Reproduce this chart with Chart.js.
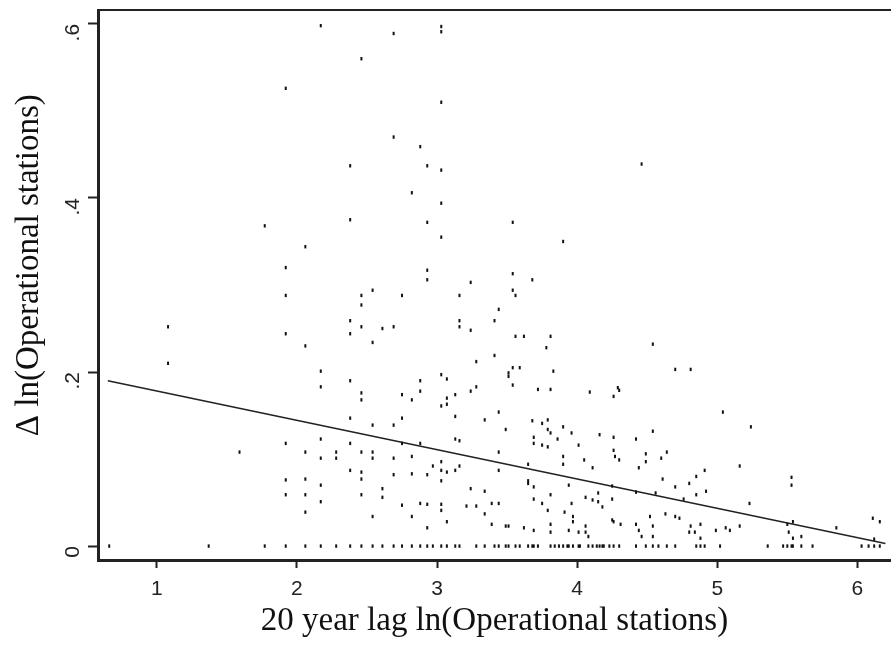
<!DOCTYPE html>
<html>
<head>
<meta charset="utf-8">
<script src="https://cdn.jsdelivr.net/npm/chart.js@4/dist/chart.umd.min.js"></script>
<style>
    body { margin: 0; background: #fff; overflow: hidden; }
    #wrap { width: 891px; height: 647px; }
    canvas { display: block; }
</style>
</head>
<body>
<div id="wrap"><canvas id="chart-scatter"></canvas></div>
<script>
// observations with a positive change
const lag_x = [
    1.92, 1.77, 1.92, 1.92, 1.08, 2.17, 2.69, 3.03, 3.03, 2.46, 3.03, 2.69, 2.88, 2.38, 2.93, 3.03,
    2.82, 3.03, 2.38, 2.93, 3.54, 3.03, 3.90, 2.06, 2.93, 2.93, 3.24, 3.54, 3.68, 2.46, 2.54, 2.75,
    3.16, 3.54, 3.56, 2.46, 3.44, 2.38, 2.46, 2.61, 2.69, 3.16, 3.16, 3.24, 3.41, 4.46, 1.92, 1.08,
    1.92, 1.59, 1.92, 1.92, 2.38, 2.54, 2.06, 3.56, 3.62, 3.81, 3.78, 3.41, 3.28, 2.17, 2.17, 2.38,
    3.51, 3.51, 3.54, 3.59, 3.83, 3.54, 3.72, 3.81, 3.03, 3.07, 2.88, 2.88, 3.24, 3.28, 2.46, 2.46,
    2.75, 2.82, 3.13, 3.07, 3.07, 3.03, 2.75, 2.38, 3.13, 3.44, 3.34, 2.54, 2.69, 3.68, 3.75, 3.79,
    3.49, 3.79, 3.81, 3.90, 3.96, 2.17, 2.38, 2.75, 2.88, 3.16, 3.13, 3.69, 3.69, 3.75, 3.79, 3.86,
    4.01, 2.06, 2.17, 2.28, 2.28, 2.46, 2.54, 2.54, 2.69, 2.82, 2.97, 3.03, 3.03, 3.07, 3.03, 3.13,
    3.16, 3.44, 3.44, 3.90, 3.90, 3.65, 3.65, 3.65, 2.38, 2.46, 2.46, 2.69, 2.82, 2.93, 2.06, 2.17,
    2.17, 2.06, 2.46, 2.61, 2.61, 3.24, 3.34, 3.69, 3.69, 3.81, 2.06, 2.54, 2.75, 2.82, 2.88, 2.93,
    3.03, 3.03, 2.93, 3.07, 3.21, 3.28, 3.39, 3.44, 3.34, 3.39, 3.49, 3.51, 3.62, 3.69, 3.75, 3.79,
    3.81, 3.81, 3.96, 3.91, 3.97, 3.97, 3.94, 4.01,
    4.54, 4.70, 4.81, 4.09, 4.26, 4.29, 4.30, 5.04, 5.24, 4.16, 4.26, 4.42, 4.54, 4.26, 4.27, 4.30,
    4.49, 4.49, 4.60, 4.64, 4.05, 4.11, 4.44, 5.16, 4.91, 4.85, 4.61, 4.70, 4.80, 3.94, 4.25, 4.42,
    4.56, 4.92, 4.85, 4.76, 5.53, 5.53, 4.06, 4.11, 4.15, 4.15, 4.18, 4.25, 5.23, 4.52, 4.63, 4.70,
    4.73, 4.25, 4.26, 4.31, 4.42, 4.44, 4.46, 4.54, 4.54, 4.06, 4.06, 4.08, 4.81, 4.80, 4.84, 4.88,
    4.88, 4.99, 5.06, 5.09, 5.16, 5.50, 5.54, 5.51, 5.54, 5.60, 5.85, 6.11, 6.16, 6.12
]
const change_y = [
    0.526, 0.368, 0.320, 0.288, 0.252, 0.598, 0.589, 0.591, 0.597, 0.560, 0.510, 0.470, 0.459, 0.437, 0.437, 0.432,
    0.406, 0.394, 0.375, 0.372, 0.372, 0.355, 0.350, 0.344, 0.317, 0.306, 0.303, 0.313, 0.306, 0.288, 0.294, 0.288,
    0.288, 0.294, 0.288, 0.277, 0.272, 0.259, 0.252, 0.250, 0.252, 0.259, 0.252, 0.248, 0.259, 0.439, 0.244, 0.210,
    0.118, 0.108, 0.076, 0.059, 0.244, 0.234, 0.230, 0.241, 0.241, 0.241, 0.228, 0.219, 0.212, 0.201, 0.183, 0.190,
    0.199, 0.195, 0.205, 0.205, 0.201, 0.185, 0.180, 0.180, 0.197, 0.192, 0.190, 0.178, 0.178, 0.183, 0.176, 0.168,
    0.174, 0.168, 0.174, 0.170, 0.163, 0.161, 0.147, 0.147, 0.149, 0.154, 0.145, 0.139, 0.139, 0.144, 0.141, 0.145,
    0.134, 0.134, 0.130, 0.137, 0.130, 0.123, 0.118, 0.118, 0.118, 0.121, 0.123, 0.125, 0.118, 0.116, 0.114, 0.123,
    0.116, 0.108, 0.101, 0.108, 0.101, 0.108, 0.108, 0.101, 0.101, 0.103, 0.092, 0.097, 0.087, 0.085, 0.075, 0.087,
    0.092, 0.108, 0.087, 0.103, 0.094, 0.094, 0.075, 0.072, 0.087, 0.085, 0.077, 0.082, 0.083, 0.082, 0.077, 0.070,
    0.051, 0.059, 0.059, 0.066, 0.056, 0.066, 0.063, 0.068, 0.054, 0.059, 0.039, 0.034, 0.047, 0.034, 0.049, 0.048,
    0.048, 0.041, 0.021, 0.028, 0.046, 0.046, 0.049, 0.049, 0.037, 0.025, 0.023, 0.023, 0.021, 0.018, 0.049, 0.041,
    0.025, 0.016, 0.049, 0.039, 0.034, 0.028, 0.018, 0.016,
    0.232, 0.203, 0.203, 0.177, 0.172, 0.182, 0.179, 0.154, 0.137, 0.128, 0.125, 0.123, 0.132, 0.110, 0.103, 0.099,
    0.106, 0.097, 0.101, 0.108, 0.099, 0.090, 0.090, 0.092, 0.087, 0.080, 0.077, 0.068, 0.072, 0.070, 0.069, 0.062,
    0.061, 0.063, 0.059, 0.054, 0.079, 0.070, 0.056, 0.053, 0.061, 0.051, 0.045, 0.054, 0.049, 0.034, 0.037, 0.034,
    0.032, 0.030, 0.028, 0.025, 0.025, 0.018, 0.011, 0.023, 0.011, 0.023, 0.016, 0.011, 0.023, 0.016, 0.016, 0.025,
    0.009, 0.018, 0.021, 0.018, 0.023, 0.025, 0.028, 0.016, 0.009, 0.011, 0.021, 0.032, 0.028, 0.008
]

// observations with no change (sit on the zero line)
const zero_lag_x = [
    0.66, 1.37, 1.77, 1.92, 2.06, 2.17, 2.28, 2.38, 2.46, 2.54, 2.61, 2.69, 2.75, 2.82, 2.88, 2.93,
    2.97, 3.03, 3.07, 3.13, 3.16, 3.28, 3.34, 3.41, 3.44, 3.49, 3.51, 3.56, 3.59, 3.65, 3.68, 3.69,
    3.72, 3.81, 3.84, 3.87, 3.90, 3.93, 3.94, 3.97, 4.01, 4.02, 4.08, 4.11, 4.14, 4.16, 4.18, 4.19,
    4.23, 4.26, 4.30, 4.42, 4.49, 4.54, 4.58, 4.64, 4.70, 4.85, 4.88, 4.91, 5.02, 5.36, 5.47, 5.50,
    5.53, 5.54, 5.60, 5.68, 6.03, 6.08, 6.12, 6.16
]

// fitted line, read at its two ends
const fit_x = [0.65, 6.2]
const fit_y = [0.190, 0.003]

const x_ticks = [1, 2, 3, 4, 5, 6]
const y_ticks = [0, 0.2, 0.4, 0.6]
const y_tick_labels = ['0', '.2', '.4', '.6']

const points = lag_x.map((x, i) => ({ x: x, y: change_y[i] }))
    .concat(zero_lag_x.map(x => ({ x: x, y: 0 })))
const fit = fit_x.map((x, i) => ({ x: x, y: fit_y[i] }))

const ink = '#222'
const tick_font = { family: '"Liberation Sans", Arial, sans-serif', size: 21 }
const title_font = { family: '"Liberation Serif", "DejaVu Serif", serif', size: 33 }

const ctx_scatter = document.getElementById('chart-scatter')
const chart_scatter = new Chart(ctx_scatter, {
    type: 'scatter',
    data: {
        datasets: [
            {
                label: 'Observations',
                data: points,
                pointStyle: 'line',
                rotation: 90,
                pointRadius: 1.7,
                pointBorderWidth: 2,
                borderColor: '#111',
                backgroundColor: '#111'
            },
            {
                type: 'line',
                label: 'Fit',
                data: fit,
                borderColor: ink,
                borderWidth: 1.6,
                pointRadius: 0,
                tension: 0
            }
        ]
    },
    options: {
        responsive: true,
        maintainAspectRatio: false,
        animation: false,
        layout: { padding: 0, autoPadding: false },
        plugins: {
            legend: { display: false },
            tooltip: { enabled: false }
        },
        scales: {
            x: {
                type: 'linear',
                position: 'bottom',
                min: 0.58,
                max: 6.24,
                afterFit: s => { s.height = 87; s.paddingLeft = 0; s.paddingRight = 0 },
                afterBuildTicks: s => { s.ticks = x_ticks.map(v => ({ value: v })) },
                ticks: {
                    color: ink,
                    font: tick_font,
                    padding: 9,
                    maxRotation: 0,
                    callback: v => String(v)
                },
                grid: { display: true, drawOnChartArea: false, drawTicks: true, tickLength: 8, tickWidth: 2, color: ink },
                border: { display: true, color: ink, width: 3 },
                title: {
                    display: true,
                    text: '20 year lag ln(Operational stations)',
                    color: '#111',
                    font: title_font,
                    padding: { top: 0, bottom: 6 }
                }
            },
            x_top: {
                type: 'linear',
                position: 'top',
                afterFit: s => { s.height = 10; s.paddingLeft = 0; s.paddingRight = 0 },
                ticks: { display: false },
                grid: { display: false },
                border: { display: true, color: ink, width: 2 }
            },
            y: {
                type: 'linear',
                min: -0.016,
                max: 0.616,
                afterFit: s => { s.width = 98; s.paddingTop = 0; s.paddingBottom = 0 },
                afterBuildTicks: s => { s.ticks = y_ticks.map(v => ({ value: v })) },
                ticks: {
                    color: ink,
                    font: tick_font,
                    padding: 15,
                    minRotation: 90,
                    maxRotation: 90,
                    callback: (v, i) => y_tick_labels[i]
                },
                grid: { display: true, drawOnChartArea: false, drawTicks: true, tickLength: 10, tickWidth: 2, color: ink },
                border: { display: true, color: ink, width: 3 },
                title: {
                    display: true,
                    text: '\u2003\u2009Δ ln(Operational stations)',
                    color: '#111',
                    font: title_font,
                    padding: { top: 10, bottom: 0 }
                }
            }
        }
    }
})
</script>
</body>
</html>
